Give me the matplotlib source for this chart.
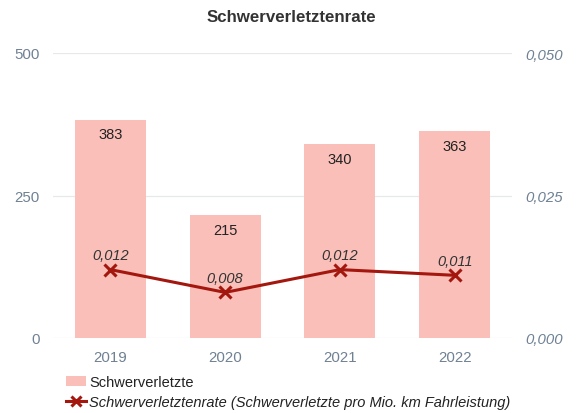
import matplotlib
matplotlib.use("Agg")
import matplotlib.pyplot as plt
from matplotlib.lines import Line2D
from matplotlib.patches import Patch

plt.rcParams['font.family'] = ['Liberation Sans', 'DejaVu Sans']

years = ["2019", "2020", "2021", "2022"]
verletzte = [383, 215, 340, 363]
rate = [0.012, 0.008, 0.012, 0.011]
rate_labels = ["0,012", "0,008", "0,012", "0,011"]
left_ticks = [0, 250, 500]
right_ticks = [0.0, 0.025, 0.05]
right_tick_labels = ["0,000", "0,025", "0,050"]

bar_color = "#F9BFB8"
line_color = "#A3170F"
tick_color = "#6F8193"

fig = plt.figure(figsize=(5.82, 4.14), dpi=100)
ax = fig.add_axes([53/582, 1-339/414, 459/582, 285/414])
x = list(range(len(years)))
ax.bar(x, verletzte, width=0.62, color=bar_color, zorder=2)
ax.set_xlim(-0.5, 3.5)
ax.set_ylim(0, 500)
ax.set_yticks(left_ticks)
ax.set_yticklabels([str(t) for t in left_ticks])
ax.set_xticks(x)
ax.set_xticklabels(years)
ax.grid(axis='y', color="#E6E8EA", linewidth=0.9, zorder=0)
for s in ax.spines.values():
    s.set_visible(False)
ax.tick_params(axis='both', length=0, colors=tick_color, labelsize=10.8)
ax.tick_params(axis='y', pad=9.5)
ax.tick_params(axis='x', pad=9)
for xi, v in zip(x, verletzte):
    ax.annotate(str(v), (xi, v), xytext=(0, -5.5), textcoords='offset points',
                ha='center', va='top', fontsize=10.5, color="#222222", zorder=4)

ax2 = ax.twinx()
ax2.set_ylim(0, 0.05)
ax2.set_yticks(right_ticks)
ax2.set_yticklabels(right_tick_labels, fontstyle='italic')
for s in ax2.spines.values():
    s.set_visible(False)
ax2.tick_params(axis='y', length=0, colors=tick_color, labelsize=10.8, pad=9.5)
ax2.plot(x, rate, color=line_color, linewidth=2.2, marker='x', markersize=8,
         markeredgewidth=2.2, zorder=5)
for xi, r, lab in zip(x, rate, rate_labels):
    ax2.annotate(lab, (xi, r), xytext=(0, 5.5), textcoords='offset points',
                 ha='center', va='bottom', fontsize=10.5, fontstyle='italic', color="#333333")

fig.text(0.5, 1-18/414, "Schwerverletztenrate", ha='center', va='center',
         fontsize=12.2, fontweight='bold', color="#333333")

handles = [Patch(facecolor=bar_color, edgecolor='none'),
           Line2D([0], [0], color=line_color, lw=2.2, marker='x', markersize=7, markeredgewidth=2.2)]
leg = fig.legend(handles, ["Schwerverletzte",
                           "Schwerverletztenrate (Schwerverletzte pro Mio. km Fahrleistung)"],
                 loc='upper left', bbox_to_anchor=(66/582, 1-376/414), frameon=False,
                 fontsize=10.5, handlelength=1.4, handletextpad=0.2, labelspacing=0.4,
                 borderaxespad=0, borderpad=0)
leg.get_texts()[1].set_fontstyle('italic')
for t in leg.get_texts():
    t.set_color("#222222")

fig.savefig("out.png", dpi=100)
